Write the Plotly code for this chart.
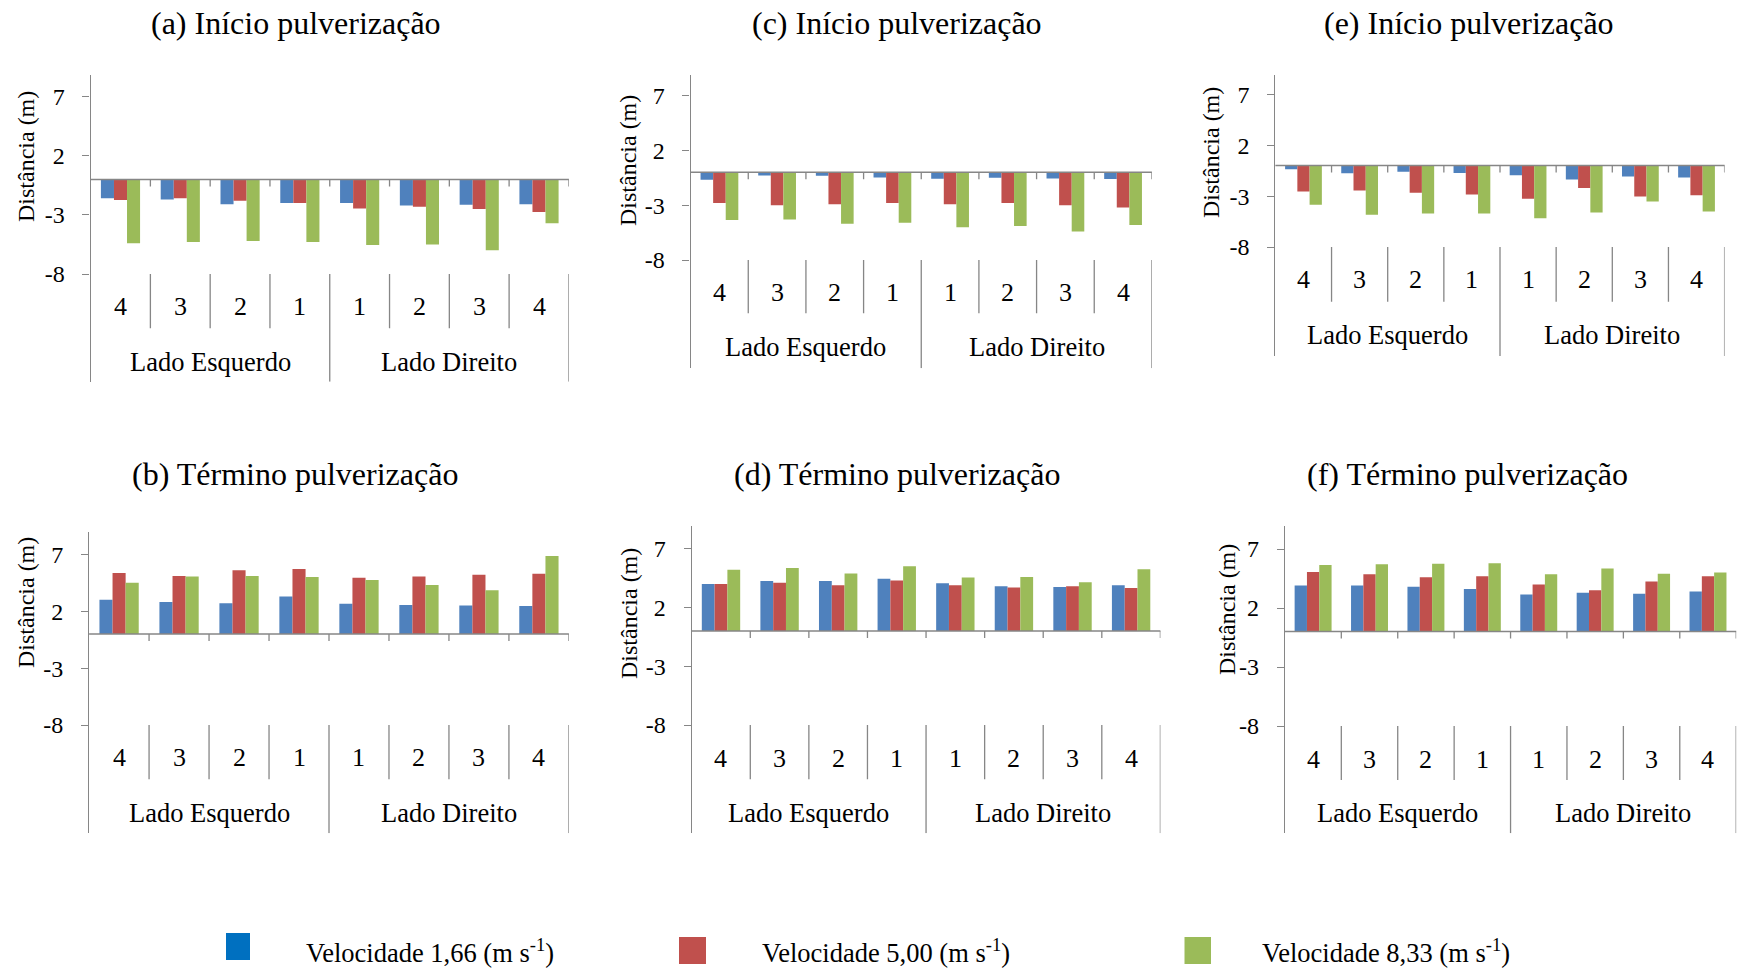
import plotly.graph_objects as go

W, H = 1739, 969

# Shared category structure: nozzle positions on each side of the boom
CATEGORIES = ["4", "3", "2", "1", "1", "2", "3", "4"]
SIDE_OF_CATEGORY = [0, 0, 0, 0, 1, 1, 1, 1]
SIDES = ["Lado Esquerdo", "Lado Direito"]
SPEEDS = ["1,66", "5,00", "8,33"]
Y_TICKS = [-8, -3, 2, 7]
Y_LABEL = "Distância (m)"

# (a) Início pulverização
a_v166 = [-1.6, -1.7, -2.1, -2.0, -2.0, -2.2, -2.15, -2.1]
a_v500 = [-1.75, -1.6, -1.8, -2.0, -2.45, -2.3, -2.5, -2.75]
a_v833 = [-5.4, -5.3, -5.2, -5.3, -5.55, -5.5, -6.0, -3.7]

# (b) Término pulverização
b_v166 = [3.0, 2.8, 2.7, 3.3, 2.65, 2.55, 2.5, 2.45]
b_v500 = [5.35, 5.1, 5.6, 5.7, 4.95, 5.05, 5.2, 5.3]
b_v833 = [4.5, 5.05, 5.1, 5.0, 4.75, 4.3, 3.85, 6.85]

# (c) Início pulverização
c_v166 = [-0.67, -0.28, -0.3, -0.46, -0.58, -0.5, -0.55, -0.6]
c_v500 = [-2.8, -3.0, -2.9, -2.8, -2.9, -2.8, -3.0, -3.2]
c_v833 = [-4.35, -4.3, -4.7, -4.6, -5.0, -4.9, -5.4, -4.8]

# (d) Término pulverização
d_v166 = [4.0, 4.25, 4.25, 4.45, 4.05, 3.8, 3.75, 3.9]
d_v500 = [4.0, 4.1, 3.9, 4.3, 3.9, 3.7, 3.8, 3.65]
d_v833 = [5.2, 5.35, 4.9, 5.5, 4.55, 4.6, 4.15, 5.25]

# (e) Início pulverização
e_v166 = [-0.36, -0.75, -0.62, -0.72, -0.95, -1.38, -1.08, -1.18]
e_v500 = [-2.56, -2.46, -2.66, -2.85, -3.25, -2.2, -3.05, -2.92]
e_v833 = [-3.84, -4.82, -4.72, -4.72, -5.18, -4.62, -3.54, -4.52]

# (f) Término pulverização
f_v166 = [3.9, 3.9, 3.8, 3.6, 3.15, 3.3, 3.2, 3.4]
f_v500 = [5.05, 4.85, 4.6, 4.7, 4.0, 3.5, 4.25, 4.7]
f_v833 = [5.65, 5.7, 5.75, 5.8, 4.85, 5.35, 4.9, 5.0]

BAR_COLORS = ["#4F81BD", "#C0504D", "#9BBB59"]
KEY_COLORS = ["#0070C0", "#C0504D", "#9BBB59"]
AXIS_GRAY = "#868686"
FONT = "Liberation Serif"

# Panel placement in pixels: plot box, where y=7 and y=-8 sit, label rows
PANELS = [
    dict(title="(a) Início pulverização", series=(a_v166, a_v500, a_v833),
         left=90.6, right=568.9, top=75, y7=96.7, ym8=274, bottom=381.7,
         inner=328.3, dig=306.7, grp=361.7, tx=296, ty=23, lx=26, ly=157),
    dict(title="(c) Início pulverização", series=(c_v166, c_v500, c_v833),
         left=690.6, right=1151.9, top=75, y7=95.7, ym8=260, bottom=368.3,
         inner=313.3, dig=292.7, grp=346.7, tx=897, ty=23, lx=628, ly=161),
    dict(title="(e) Início pulverização", series=(e_v166, e_v500, e_v833),
         left=1275.4, right=1724.6, top=75, y7=94.3, ym8=247, bottom=356,
         inner=301.7, dig=280, grp=335, tx=1469, ty=23, lx=1211, ly=153),
    dict(title="(b) Término pulverização", series=(b_v166, b_v500, b_v833),
         left=89.1, right=568.9, top=532.3, y7=554.3, ym8=725, bottom=833.3,
         inner=779.3, dig=757.3, grp=813.3, tx=295, ty=474, lx=26, ly=603),
    dict(title="(d) Término pulverização", series=(d_v166, d_v500, d_v833),
         left=691.7, right=1160.4, top=526, y7=548.7, ym8=725, bottom=833.3,
         inner=779.3, dig=758.3, grp=813.3, tx=897, ty=474, lx=629, ly=614),
    dict(title="(f) Término pulverização", series=(f_v166, f_v500, f_v833),
         left=1284.9, right=1736.2, top=526, y7=549, ym8=726, bottom=833.3,
         inner=780, dig=759.3, grp=813.3, tx=1467, ty=474, lx=1227, ly=610),
]

# Key boxes (x0, y0, x1, y1) and text start, in pixels
KEY_BOXES = [(226, 933, 250, 960), (679, 937, 706, 964), (1184.5, 937, 1211, 964)]
KEY_TEXT_X = [304, 760, 1260]
KEY_TEXT_Y = 951


def py(v):
    return 1 - v / H


def px(v):
    return v / W


fig = go.Figure()
shapes = []
annotations = []
layout_axes = {}

xs = list(range(len(CATEGORIES)))

for i, p in enumerate(PANELS, start=1):
    sfx = "" if i == 1 else str(i)
    xa, ya = "x" + sfx, "y" + sfx
    unit = (p["ym8"] - p["y7"]) / 15.0
    ymax = 7 + (p["y7"] - p["top"]) / unit
    ymin = -8 - (p["bottom"] - p["ym8"]) / unit

    def to_y(pix, y7=p["y7"], u=unit):
        return 7 - (pix - y7) / u

    for s, vals in enumerate(p["series"]):
        fig.add_trace(go.Bar(
            x=xs, y=vals, xaxis=xa, yaxis=ya,
            name=f"Velocidade {SPEEDS[s]} (m s-1)",
            marker=dict(color=BAR_COLORS[s], line=dict(width=0)),
            showlegend=False,
        ))

    layout_axes["xaxis" + sfx] = dict(
        domain=[px(p["left"]), px(p["right"])], range=[-0.5, len(xs) - 0.5],
        anchor=ya, visible=False, fixedrange=True,
    )
    layout_axes["yaxis" + sfx] = dict(
        domain=[py(p["bottom"]), py(p["top"])], range=[ymin, ymax],
        anchor=xa, tickmode="array", tickvals=Y_TICKS,
        ticktext=[str(v) for v in Y_TICKS],
        ticks="outside", ticklen=7, tickwidth=1, tickcolor=AXIS_GRAY,
        showline=True, linecolor=AXIS_GRAY, linewidth=1.3,
        showgrid=False, zeroline=False, ticklabelstandoff=13,
        tickfont=dict(family=FONT, size=24, color="black"), fixedrange=True,
    )

    # horizontal axis drawn through zero
    shapes.append(dict(type="line", xref=xa + " domain", x0=0, x1=1,
                       yref=ya, y0=0, y1=0,
                       line=dict(color=AXIS_GRAY, width=1.5)))

    n = len(CATEGORIES)
    for k in range(n):
        b = k + 0.5
        # tick marks hanging from the zero axis at category borders
        shapes.append(dict(type="line", xref=xa, x0=b, x1=b, yref=ya,
                           ysizemode="pixel", yanchor=0, y0=0, y1=-7,
                           line=dict(color=AXIS_GRAY, width=1.3)))
        outer = (k == n - 1) or (SIDE_OF_CATEGORY[k] != SIDE_OF_CATEGORY[k + 1])
        y_end = ymin if outer else to_y(p["inner"])
        shapes.append(dict(type="line", xref=xa, x0=b, x1=b, yref=ya,
                           y0=-8, y1=y_end,
                           line=dict(color=AXIS_GRAY, width=1.3)))

    for k, lab in enumerate(CATEGORIES):
        annotations.append(dict(text=lab, xref=xa, x=k, yref="paper",
                                y=py(p["dig"]), showarrow=False,
                                xanchor="center", yanchor="middle",
                                font=dict(family=FONT, size=26, color="black")))
    for sd, side in enumerate(SIDES):
        idx = [k for k in xs if SIDE_OF_CATEGORY[k] == sd]
        annotations.append(dict(text=side, xref=xa, x=sum(idx) / len(idx),
                                yref="paper", y=py(p["grp"]), showarrow=False,
                                xanchor="center", yanchor="middle",
                                font=dict(family=FONT, size=26.5, color="black")))

    annotations.append(dict(text=p["title"], xref="paper", x=px(p["tx"]),
                            yref="paper", y=py(p["ty"]), showarrow=False,
                            xanchor="center", yanchor="middle",
                            font=dict(family=FONT, size=32, color="black")))
    annotations.append(dict(text=Y_LABEL, xref="paper", x=px(p["lx"]),
                            yref="paper", y=py(p["ly"]), showarrow=False,
                            textangle=-90, xanchor="center", yanchor="middle",
                            font=dict(family=FONT, size=24, color="black")))

# Series key along the bottom
for s, (x0, y0, x1, y1) in enumerate(KEY_BOXES):
    shapes.append(dict(type="rect", xref="paper", yref="paper",
                       x0=px(x0), x1=px(x1), y0=py(y1), y1=py(y0),
                       fillcolor=KEY_COLORS[s], line=dict(width=0)))
    annotations.append(dict(text=f"Velocidade {SPEEDS[s]} (m s<sup>-1</sup>)",
                            xref="paper", x=px(KEY_TEXT_X[s]), yref="paper",
                            y=py(KEY_TEXT_Y), showarrow=False,
                            xanchor="left", yanchor="middle",
                            font=dict(family=FONT, size=26.5, color="black")))

fig.update_layout(
    width=W, height=H, margin=dict(l=0, r=0, t=0, b=0),
    paper_bgcolor="white", plot_bgcolor="white",
    barmode="group", bargap=0.345, bargroupgap=0,
    shapes=shapes, annotations=annotations, showlegend=False,
    **layout_axes,
)

fig.write_html("out.html")
